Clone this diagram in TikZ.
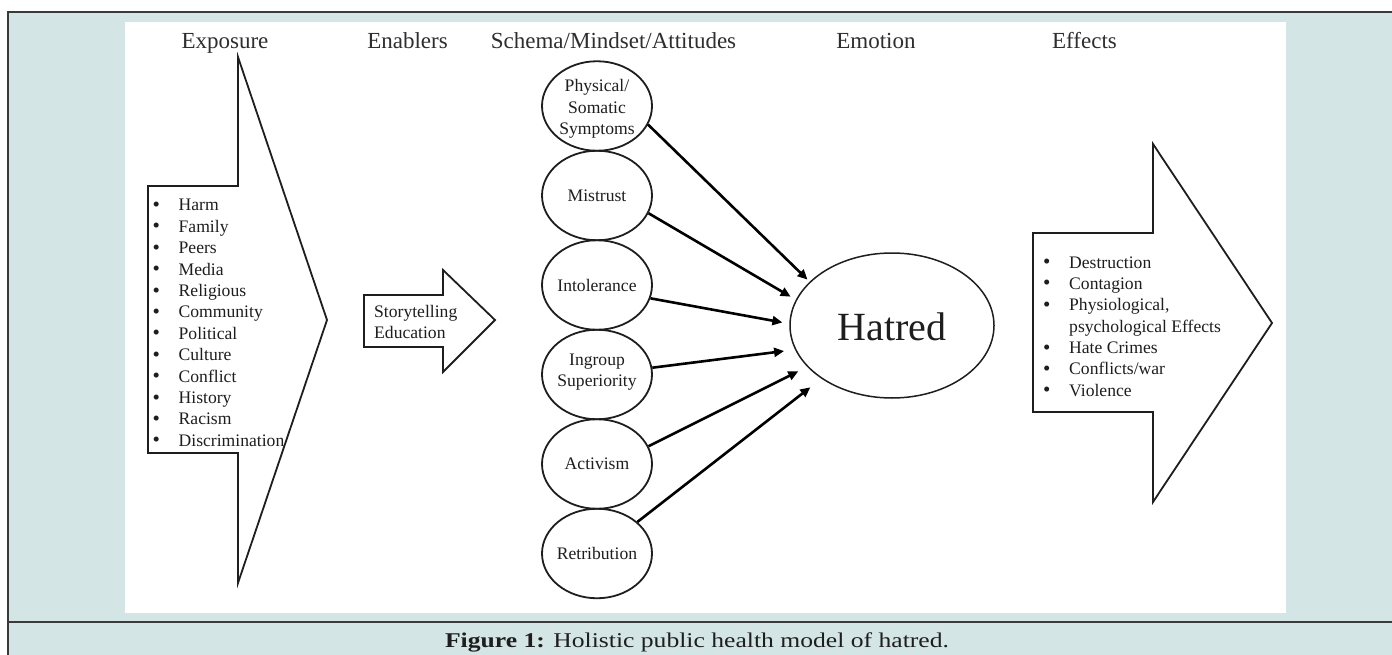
\documentclass[tikz,border=0pt]{standalone}
\usepackage{fontspec}
\setmainfont{Liberation Serif}
\usetikzlibrary{arrows.meta,shapes.geometric}
\definecolor{teal0}{HTML}{D3E5E4}
\definecolor{ink}{HTML}{1E1E1E}
\definecolor{hdrgray}{HTML}{2E2E2E}
\definecolor{frameline}{HTML}{3A3A3A}
\newcommand\bul{\makebox[26pt][l]{\raisebox{-0.5pt}{\fontsize{21}{21}\selectfont\textbullet}}}
\begin{document}
\begin{tikzpicture}[x=1pt,y=-1pt,
  hdr/.style={font=\fontsize{23}{27}\selectfont, text=hdrgray, inner sep=0, anchor=base},
  bigarrow/.style={draw=ink, line width=1.8pt, fill=white, line join=miter},
  att/.style={ellipse, draw=ink, line width=1.8pt, minimum width=110pt, minimum height=89.5pt, inner sep=0},
  atttext/.style={font=\fontsize{17.6}{21.4}\selectfont, align=center, text=ink, inner sep=0},
  listtext/.style={font=\fontsize{17.6}{21.4}\selectfont, text=ink, inner sep=0, anchor=base west},
  link/.style={draw=black, line width=2.6pt, -{Triangle[length=10pt,width=9pt]}}]
\useasboundingbox (0,0) rectangle (1392,655);
% frame
\fill[teal0] (8,12) rectangle (1392,655);
\fill[white] (125,22) rectangle (1286,613);
\draw[frameline, line width=1.6pt] (8,655) -- (8,12) -- (1392,12);
\draw[frameline, line width=1.6pt] (8,622) -- (1392,622);
% headers
\node[hdr] (hexp) at (225,49) {Exposure};
\node[hdr] (hena) at (407.5,49) {Enablers};
\node[hdr] (hsch) at (613.5,49) {Schema/Mindset/Attitudes};
\node[hdr] (hemo) at (876,49) {Emotion};
\node[hdr] (heff) at (1084.5,49) {Effects};
% exposure arrow
\draw[bigarrow] (148,186) -- (238,186) -- (238,57) -- (327,320) -- (238,583) -- (238,453) -- (148,453) -- cycle;
\node[listtext] (explist) at (152.5,211) {\begin{tabular}[t]{@{}l@{}}
\bul Harm\\ \bul Family\\ \bul Peers\\ \bul Media\\ \bul Religious\\ \bul Community\\
\bul Political\\ \bul Culture\\ \bul Conflict\\ \bul History\\ \bul Racism\\ \bul Discrimination
\end{tabular}};
% enablers arrow
\draw[bigarrow] (364,295) -- (443,295) -- (443,270) -- (495,320) -- (443,372) -- (443,347) -- (364,347) -- cycle;
\node[listtext] (enalist) at (374,317) {\begin{tabular}[t]{@{}l@{}}Storytelling\\ Education\end{tabular}};
% effects arrow
\draw[bigarrow] (1033,233) -- (1153,233) -- (1153,144) -- (1272,323) -- (1153,502) -- (1153,412) -- (1033,412) -- cycle;
\node[listtext] (efflist) at (1043,268) {\begin{tabular}[t]{@{}l@{}}
\bul Destruction\\ \bul Contagion\\ \bul Physiological,\\ \makebox[26pt]{}psychological Effects\\
\bul Hate Crimes\\ \bul Conflicts/war\\ \bul Violence
\end{tabular}};
% attitude ellipses
\node[att] (e1) at (597,106) {};
\node[att] (e2) at (597,195.5) {};
\node[att] (e3) at (597,285) {};
\node[att] (e4) at (597,374.5) {};
\node[att] (e5) at (597,464) {};
\node[att] (e6) at (597,553.5) {};
\node[atttext] (t1) at (597,109) {Physical/\\Somatic\\Symptoms};
\node[atttext] (t2) at (597,195.5) {Mistrust};
\node[atttext] (t3) at (597,285) {Intolerance};
\node[atttext] (t4) at (597,372) {Ingroup\\Superiority};
\node[atttext] (t5) at (597,464) {Activism};
\node[atttext] (t6) at (597,553.5) {Retribution};
% hatred
\node[ellipse, draw=ink, line width=1.5pt, minimum width=204pt, minimum height=145pt, inner sep=0] (hatred) at (892,325.5) {};
\node[font=\fontsize{40}{40}\selectfont, text=ink, anchor=base, inner sep=0] (htext) at (892,340) {Hatred};
% connectors
\draw[link, shorten >=3pt] (e1.-20) -- (hatred.152);
\draw[link, shorten >=6pt] (e2.-19) -- (hatred.165);
\draw[link, shorten >=7pt] (e3.-14) -- (hatred.179);
\draw[link, shorten >=11pt] (e4.7) -- (hatred.194);
\draw[link, shorten >=10pt] (e5.19) -- (hatred.206);
\draw[link, shorten >=14pt] (e6.38) -- (hatred.217);
% caption
\node[anchor=base, text=ink, inner sep=0] (cap) at (697,647) {\scalebox{1.22}[1]{\fontsize{21}{24}\selectfont\textbf{Figure 1:} Holistic public health model of hatred.}};
\end{tikzpicture}
\end{document}
